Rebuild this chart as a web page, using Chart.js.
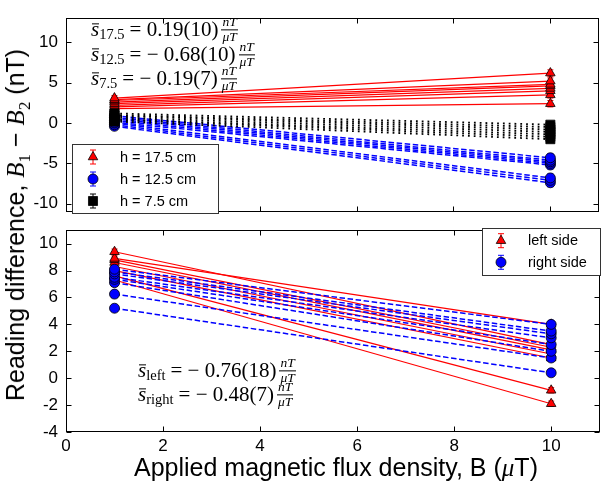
<!DOCTYPE html>
<html>
<head>
<meta charset="utf-8">
<script src="https://cdn.jsdelivr.net/npm/chart.js@4.4.0/dist/chart.umd.min.js"></script>
<style>
html,body{margin:0;padding:0;background:#fff;}
#wrap{position:relative;width:606px;height:481px;overflow:hidden;background:#fff;}
canvas{position:absolute;left:0;}
.ann{position:absolute;font-family:'Liberation Serif','DejaVu Serif',serif;font-size:21px;white-space:nowrap;line-height:1;display:flex;align-items:center;transform:translateY(-50%);color:#000;}
.s{font-style:italic;position:relative;}
.s::before{content:'';position:absolute;left:1px;right:0;top:4px;border-top:1px solid #000;}
.sub{font-size:14.5px;position:relative;top:5px;margin-right:5px;}
.frac{display:inline-flex;flex-direction:column;align-items:center;font-style:italic;font-size:13.5px;margin-left:3px;line-height:0.9;}
.frac .n{border-bottom:1px solid #000;padding:0 1px 1px 1px;}
.frac .d{padding-top:1px;}
.title{position:absolute;font-family:'Liberation Sans',Arial,sans-serif;font-size:25px;white-space:nowrap;line-height:1;color:#000;}
.m{font-family:'Liberation Serif',serif;font-style:italic;}
.title sub{font-family:'Liberation Serif',serif;font-size:17px;}
</style>
</head>
<body>
<div id="wrap">
  <canvas id="topChart" width="606" height="230" style="top:0"></canvas>
  <canvas id="bottomChart" width="606" height="269" style="top:212px"></canvas>

  <div class="ann" style="left:91px;top:30px"><span class="s">s</span><span class="sub">17.5</span><span>=&nbsp;0.19(10)</span><span class="frac"><span class="n">nT</span><span class="d">μT</span></span></div>
  <div class="ann" style="left:91px;top:55px"><span class="s">s</span><span class="sub">12.5</span><span>=&nbsp;−&nbsp;0.68(10)</span><span class="frac"><span class="n">nT</span><span class="d">μT</span></span></div>
  <div class="ann" style="left:91px;top:79px"><span class="s">s</span><span class="sub">7.5</span><span>=&nbsp;−&nbsp;0.19(7)</span><span class="frac"><span class="n">nT</span><span class="d">μT</span></span></div>

  <div class="ann" style="left:138px;top:371px"><span class="s">s</span><span class="sub">left</span><span>=&nbsp;−&nbsp;0.76(18)</span><span class="frac"><span class="n">nT</span><span class="d">μT</span></span></div>
  <div class="ann" style="left:138px;top:395px"><span class="s">s</span><span class="sub">right</span><span>=&nbsp;−&nbsp;0.48(7)</span><span class="frac"><span class="n">nT</span><span class="d">μT</span></span></div>

  <div class="title" style="left:18px;top:225px;transform:translate(-50%,-50%) rotate(-90deg)">Reading difference, <span class="m">B</span><sub>1</sub> − <span class="m">B</span><sub>2</sub> (nT)</div>
  <div class="title" style="left:336px;top:467px;transform:translate(-50%,-50%)">Applied magnetic flux density, B (<span class="m">μ</span>T)</div>
</div>
<script>
// ---------- data ----------
const fieldB = [1, 10];
const xTicks = [0, 2, 4, 6, 8, 10];
const topYTicks = [-10, -5, 0, 5, 10];
const bottomYTicks = [-4, -2, 0, 2, 4, 6, 8, 10];

const topLegendLabels = ['h = 17.5 cm', 'h = 12.5 cm', 'h = 7.5 cm'];
const bottomLegendLabels = ['left side', 'right side'];

// top panel: sensor heights
const h175At1  = [3.1, 2.9, 2.8, 2.6, 2.4, 2.2, 2.0, 1.8];
const h175At10 = [6.2, 5.2, 4.8, 4.6, 4.3, 4.0, 3.5, 2.4];
const h175Err  = [0.3, 0.4];
const h125At1  = [0.9, 0.7, 0.5, 0.3, 0.1, 0.0, -0.2, -0.4];
const h125At10 = [-4.3, -4.6, -4.8, -5.0, -5.2, -6.8, -7.1, -7.4];
const h125Err  = [0.3, 0.5];
const h75At1   = [1.2, 1.0, 0.9, 0.7, 0.5, 0.4, 0.2];
const h75At10  = [-0.2, -0.5, -0.8, -1.1, -1.4, -1.7, -2.0];
const h75Err   = [0.3, 0.4];

// bottom panel: sides
const leftAt1   = [9.4, 8.9, 8.8, 8.6, 8.3, 8.0, 7.6, 7.3];
const leftAt10  = [2.5, 4.0, 2.3, 2.1, 1.8, 1.5, -0.9, -1.9];
const leftErr   = [0.2, 0.2];
const rightAt1  = [8.1, 7.9, 7.75, 7.5, 7.35, 7.1, 6.25, 5.2];
const rightAt10 = [4.0, 3.5, 3.3, 3.0, 2.5, 2.0, 1.5, 0.4];
const rightErr  = [0.2, 0.25];

// ---------- styles ----------
const RED = '#ff0000', BLUE = '#0000ff', BLACK = '#000000';
const styleRed   = {borderColor: RED, borderWidth: 1.2, borderDash: [], pointStyle: 'triangle', pointRadius: 5.5, pointBackgroundColor: RED, errColor: RED};
const styleBlue  = {borderColor: BLUE, borderWidth: 1.5, borderDash: [5.5, 2.6], pointStyle: 'circle', pointRadius: 5, pointBackgroundColor: BLUE, errColor: BLUE};
const styleBlack = {borderColor: BLACK, borderWidth: 1.8, borderDash: [1.8, 4], pointStyle: 'rect', pointRadius: 6.4, pointBackgroundColor: BLACK, errColor: BLACK};

function lineSets(at1, at10, err, style, order) {
  return at1.map((v, i) => Object.assign({
    data: [{x: fieldB[0], y: v}, {x: fieldB[1], y: at10[i]}],
    errors: err,
    pointBorderColor: '#000',
    pointBorderWidth: 0.8,
    fill: false,
    tension: 0,
    order: order
  }, style));
}

function drawMarker(ctx, style, x, y, r) {
  ctx.beginPath();
  if (style === 'triangle') {
    ctx.moveTo(x, y - r);
    ctx.lineTo(x + 0.866 * r, y + 0.5 * r);
    ctx.lineTo(x - 0.866 * r, y + 0.5 * r);
    ctx.closePath();
  } else if (style === 'circle') {
    ctx.arc(x, y, r, 0, Math.PI * 2);
  } else {
    const s = r * Math.SQRT1_2;
    ctx.rect(x - s, y - s, 2 * s, 2 * s);
  }
  ctx.fill();
  ctx.stroke();
}

const panelPlugin = {
  id: 'panel',
  beforeDatasetsDraw(chart) {
    const {ctx, chartArea: a} = chart;
    const xs = chart.scales.x, ys = chart.scales.y;
    ctx.save();
    ctx.beginPath(); ctx.rect(a.left, a.top, a.right - a.left, a.bottom - a.top); ctx.clip();
    chart.data.datasets.forEach(ds => {
      ctx.strokeStyle = ds.errColor; ctx.lineWidth = 1; ctx.setLineDash([]);
      ds.data.forEach((p, i) => {
        const e = ds.errors[i];
        const px = xs.getPixelForValue(p.x);
        const ya = ys.getPixelForValue(p.y - e), yb = ys.getPixelForValue(p.y + e);
        ctx.beginPath();
        ctx.moveTo(px, ya); ctx.lineTo(px, yb);
        ctx.moveTo(px - 3, ya); ctx.lineTo(px + 3, ya);
        ctx.moveTo(px - 3, yb); ctx.lineTo(px + 3, yb);
        ctx.stroke();
      });
    });
    ctx.restore();
  },
  afterDraw(chart, args, opts) {
    const {ctx, chartArea: a} = chart;
    const xs = chart.scales.x, ys = chart.scales.y;
    const L = Math.round(a.left) + 0.5, R = Math.round(a.right) - 0.5;
    const T = Math.round(a.top) + 0.5, B = Math.round(a.bottom) - 0.5;
    ctx.save();
    ctx.setLineDash([]);
    ctx.strokeStyle = '#000'; ctx.lineWidth = 1;
    ctx.strokeRect(L, T, R - L, B - T);
    const tl = 5;
    ctx.beginPath();
    xTicks.forEach(v => {
      const px = Math.round(xs.getPixelForValue(v)) + 0.5;
      ctx.moveTo(px, B); ctx.lineTo(px, B - tl);
      ctx.moveTo(px, T); ctx.lineTo(px, T + tl);
    });
    opts.yTicks.forEach(v => {
      const py = Math.round(ys.getPixelForValue(v)) + 0.5;
      ctx.moveTo(L, py); ctx.lineTo(L + tl, py);
      ctx.moveTo(R, py); ctx.lineTo(R - tl, py);
    });
    ctx.stroke();
    const lg = opts.legend;
    if (lg) {
      const [x0, y0, x1, y1] = lg.box;
      ctx.fillStyle = '#fff';
      ctx.fillRect(x0, y0, x1 - x0, y1 - y0);
      ctx.strokeStyle = '#333'; ctx.lineWidth = 1;
      ctx.strokeRect(x0, y0, x1 - x0, y1 - y0);
      ctx.font = "14.5px 'Liberation Sans', Arial, sans-serif";
      ctx.textBaseline = 'middle'; ctx.textAlign = 'left';
      lg.items.forEach((it, i) => {
        const y = lg.ys[i], x = lg.markerX;
        ctx.strokeStyle = it.color; ctx.lineWidth = 1;
        ctx.beginPath();
        ctx.moveTo(x, y - 7); ctx.lineTo(x, y + 7);
        ctx.moveTo(x - 3, y - 7); ctx.lineTo(x + 3, y - 7);
        ctx.moveTo(x - 3, y + 7); ctx.lineTo(x + 3, y + 7);
        ctx.stroke();
        ctx.fillStyle = it.color; ctx.strokeStyle = '#000'; ctx.lineWidth = 0.8;
        drawMarker(ctx, it.style, x, y, it.r);
        ctx.fillStyle = '#000';
        ctx.fillText(it.label, lg.textX, y + 0.5);
      });
    }
    ctx.restore();
  }
};

Chart.defaults.font.family = "'Liberation Sans', Arial, sans-serif";
Chart.defaults.font.size = 17;
Chart.defaults.color = '#000';

function yAxis(min, max, ticks) {
  return {
    type: 'linear', min: min, max: max,
    afterFit(s) { s.width = 66; },
    afterBuildTicks(s) { s.ticks = ticks.map(v => ({value: v})); },
    grid: {display: false, drawTicks: false},
    border: {display: false},
    ticks: {padding: 8, callback: v => String(v)}
  };
}

new Chart(document.getElementById('topChart'), {
  type: 'line',
  data: {
    datasets: [].concat(
      lineSets(h175At1, h175At10, h175Err, styleRed, 2),
      lineSets(h125At1, h125At10, h125Err, styleBlue, 1),
      lineSets(h75At1, h75At10, h75Err, styleBlack, 0)
    )
  },
  options: {
    responsive: false, animation: false, events: [],
    layout: {padding: {top: 11, right: 1, bottom: 9, left: 0}},
    plugins: {
      legend: {display: false}, tooltip: {enabled: false},
      panel: {
        yTicks: topYTicks,
        legend: {
          box: [72.5, 144.5, 218.5, 213.5], markerX: 93, textX: 120, ys: [157, 179, 201],
          items: [
            {label: topLegendLabels[0], color: RED, style: 'triangle', r: 5.5},
            {label: topLegendLabels[1], color: BLUE, style: 'circle', r: 5},
            {label: topLegendLabels[2], color: BLACK, style: 'rect', r: 6.4}
          ]
        }
      }
    },
    scales: {
      x: {type: 'linear', min: 0, max: 11, display: false},
      y: yAxis(-11, 13, topYTicks)
    }
  },
  plugins: [panelPlugin]
});

new Chart(document.getElementById('bottomChart'), {
  type: 'line',
  data: {
    datasets: [].concat(
      lineSets(leftAt1, leftAt10, leftErr, styleRed, 1),
      lineSets(rightAt1, rightAt10, rightErr, styleBlue, 0)
    )
  },
  options: {
    responsive: false, animation: false, events: [],
    layout: {padding: {top: 8, right: 1, bottom: 0, left: 0}},
    plugins: {
      legend: {display: false}, tooltip: {enabled: false},
      panel: {
        yTicks: bottomYTicks,
        legend: {
          box: [482.5, 16.5, 600.5, 63.5], markerX: 501, textX: 528, ys: [28.7, 50.3],
          items: [
            {label: bottomLegendLabels[0], color: RED, style: 'triangle', r: 5.5},
            {label: bottomLegendLabels[1], color: BLUE, style: 'circle', r: 5}
          ]
        }
      }
    },
    scales: {
      x: {
        type: 'linear', min: 0, max: 11,
        afterFit(s) { s.height = 49; },
        afterBuildTicks(s) { s.ticks = xTicks.map(v => ({value: v})); },
        grid: {display: false, drawTicks: false},
        border: {display: false},
        ticks: {padding: 4, maxRotation: 0, autoSkip: false, callback: v => String(v)}
      },
      y: yAxis(-4, 11, bottomYTicks)
    }
  },
  plugins: [panelPlugin]
});
</script>
</body>
</html>
